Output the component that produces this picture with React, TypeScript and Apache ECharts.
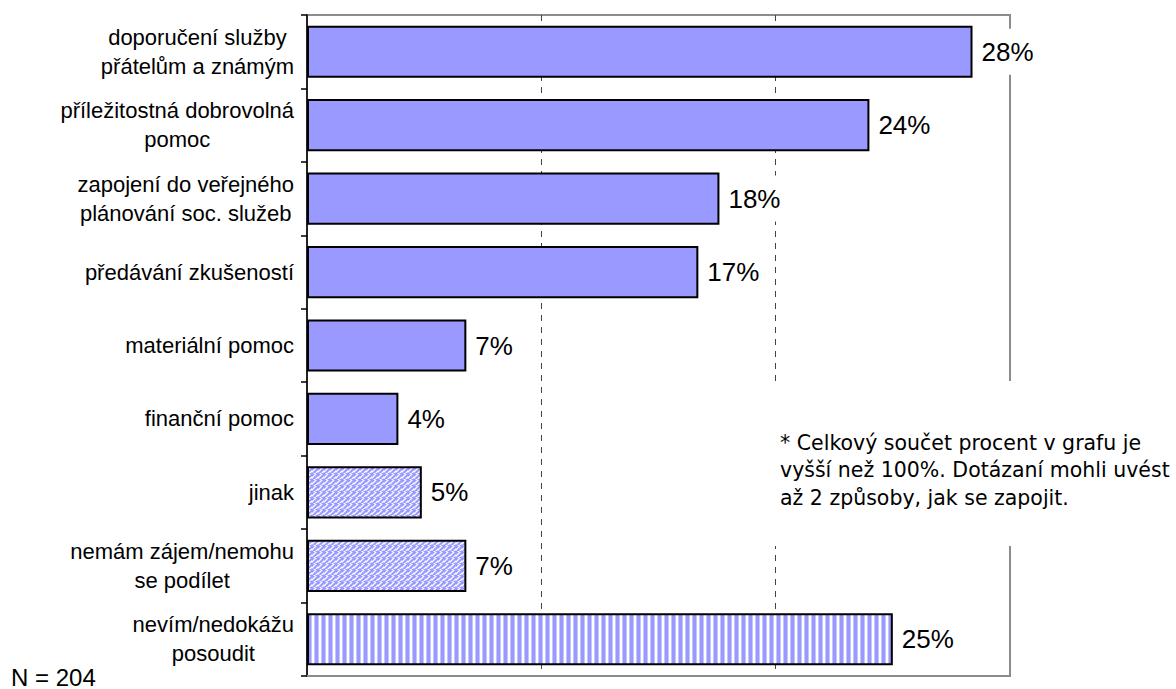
import React, { useEffect, useRef } from "react";
import * as echarts from "echarts";

const categories: string[] = [
  "doporučení služby\npřátelům a známým",
  "příležitostná dobrovolná\npomoc",
  "zapojení do veřejného\nplánování soc. služeb",
  "předávání zkušeností",
  "materiální pomoc",
  "finanční pomoc",
  "jinak",
  "nemám zájem/nemohu\nse podílet",
  "nevím/nedokážu\nposoudit",
];

const values: number[] = [28.4, 24.0, 17.6, 16.7, 6.8, 3.9, 4.9, 6.8, 25.0];

// fill kind per bar: solid, dotted texture, vertical stripes
const fillKinds: string[] = ["solid", "solid", "solid", "solid", "solid", "solid", "dots", "dots", "stripes"];

const xTicks: number[] = [0, 10, 20, 30];

const noteText = "* Celkový součet procent v grafu je\nvyšší než 100%. Dotázaní mohli uvést\naž 2 způsoby, jak se zapojit.";
const nText = "N = 204";

const BLUE = "#9999ff";
const MID = "#c6c6ff";
const WHITE = "#ffffff";

function makePattern(rows: string[][]) {
  const h = rows.length;
  const w = rows[0].length;
  const c = document.createElement("canvas");
  c.width = w;
  c.height = h;
  const ctx = c.getContext("2d")!;
  for (let y = 0; y < h; y++) {
    for (let x = 0; x < w; x++) {
      ctx.fillStyle = rows[y][x];
      ctx.fillRect(x, y, 1, 1);
    }
  }
  return { image: c.toDataURL(), repeat: "repeat", imageWidth: w, imageHeight: h };
}

export default function App() {
  const ref = useRef<HTMLDivElement>(null);

  useEffect(() => {
    document.body.style.margin = "0";
    if (!ref.current) return;
    const chart = echarts.init(ref.current, undefined, { renderer: "svg" });

    const B = BLUE, M = MID, W = WHITE;
    const dots = makePattern([
      [B, B, M, W, M, B],
      [B, M, W, M, B, B],
      [M, W, M, B, B, M],
      [W, M, B, B, M, W],
      [M, B, B, M, W, M],
      [B, B, M, W, M, B].slice(0, 6).reverse(),
    ]);
    const stripes = makePattern([[B, B, B, M, W, W, M]]);

    const fillFor = (k: string): any => (k === "dots" ? dots : k === "stripes" ? stripes : BLUE);

    const catFont = "'Liberation Sans', Arial, sans-serif";

    chart.setOption({
      animation: false,
      backgroundColor: "#ffffff",
      grid: {
        left: 307,
        right: 166,
        top: 15,
        bottom: 13,
        show: true,
        borderColor: "#8c8c8c",
        borderWidth: 2,
        backgroundColor: "transparent",
      },
      xAxis: {
        type: "value",
        min: xTicks[0],
        max: xTicks[xTicks.length - 1],
        interval: xTicks[1] - xTicks[0],
        axisLabel: { show: false },
        axisTick: { show: false },
        axisLine: { show: true, lineStyle: { color: "#8c8c8c", width: 2 } },
        splitLine: {
          show: true,
          lineStyle: {
            type: [6, 6],
            width: 1,
            color: ["rgba(0,0,0,0)", "#444444", "#444444", "rgba(0,0,0,0)"],
          },
        },
      },
      yAxis: {
        type: "category",
        inverse: true,
        data: categories,
        axisLine: { show: true, lineStyle: { color: "#000000", width: 1.5 } },
        axisTick: { show: true, inside: false, length: 6, lineStyle: { color: "#000000", width: 1.5 } },
        splitLine: { show: false },
        axisLabel: {
          interval: 0,
          margin: 13,
          formatter: (v: string) =>
            v
              .split("\n")
              .map((l) => `{c|${l}}`)
              .join("\n"),
          rich: {
            c: {
              fontFamily: catFont,
              fontSize: 22,
              lineHeight: 29,
              color: "#000000",
              align: "center",
            },
          },
        },
      },
      series: [
        {
          type: "bar",
          barCategoryGap: "29%",
          data: values.map((v, i) => ({
            value: v,
            itemStyle: { color: fillFor(fillKinds[i]) },
          })),
          itemStyle: { borderColor: "#000000", borderWidth: 2 },
          label: {
            show: true,
            position: "right",
            distance: 5,
            formatter: (p: any) => `${Math.round(p.value)}%`,
            fontFamily: catFont,
            fontSize: 26,
            color: "#000000",
            backgroundColor: "#ffffff",
            padding: [10, 4],
          },
        },
      ],
      graphic: [
        {
          type: "rect",
          z: 100,
          shape: { x: 770, y: 381, width: 406, height: 165 },
          style: { fill: "#ffffff" },
        },
        {
          type: "text",
          z: 101,
          x: 780,
          y: 470,
          style: {
            text: noteText,
            font: "20.5px 'DejaVu Sans', Verdana, sans-serif",
            lineHeight: 27.5,
            fill: "#000000",
            textAlign: "left",
            verticalAlign: "middle",
          },
        },
        {
          type: "text",
          z: 101,
          x: 11,
          y: 677,
          style: {
            text: nText,
            font: "24px 'Liberation Sans', Arial, sans-serif",
            fill: "#000000",
            textAlign: "left",
            verticalAlign: "middle",
          },
        },
      ],
    });

    return () => chart.dispose();
  }, []);

  return <div ref={ref} style={{ width: 1176, height: 689 }} />;
}
